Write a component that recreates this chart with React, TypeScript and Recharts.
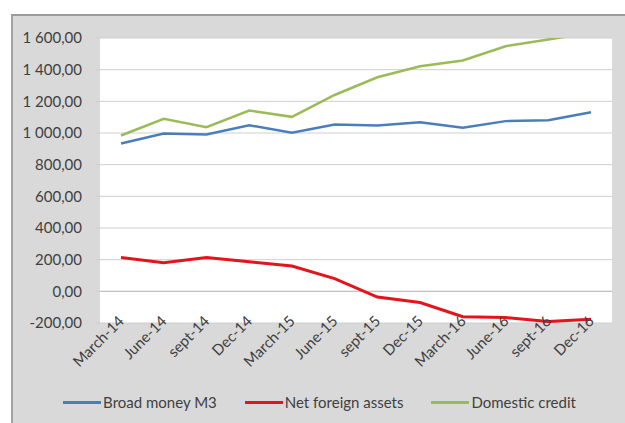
import React from 'react'
import { LineChart, Line, XAxis, YAxis, CartesianGrid, Legend, ReferenceLine } from 'recharts'

const categories = ['March-14', 'June-14', 'sept-14', 'Dec-14', 'March-15', 'June-15', 'sept-15', 'Dec-15', 'March-16', 'June-16', 'sept-16', 'Dec-16']
const broadMoney = [934, 997, 991, 1049, 1001, 1054, 1047, 1068, 1033, 1075, 1081, 1131]
const netForeign = [213, 181, 213, 187, 160, 80, -36, -71, -160, -166, -191, -177]
const domesticCredit = [984, 1090, 1037, 1142, 1102, 1240, 1352, 1422, 1458, 1548, 1590, 1635]
const yTicks = [-200, 0, 200, 400, 600, 800, 1000, 1200, 1400, 1600]

const data = categories.map((name, i) => ({
  name,
  broad: broadMoney[i],
  nfa: netForeign[i],
  credit: domesticCredit[i],
}))

const series = [
  { key: 'broad', label: 'Broad money M3', color: '#4a7ebb', width: 2.5 },
  { key: 'nfa', label: 'Net foreign assets', color: '#e3141b', width: 3 },
  { key: 'credit', label: 'Domestic credit', color: '#9bbb59', width: 2.5 },
]

const FONT = 'Lato, "Open Sans", sans-serif'
const TEXT = '#404040'

function fmt(v: number) {
  const [i, d] = Math.abs(v).toFixed(2).split('.')
  const grouped = i.replace(/\B(?=(\d{3})+(?!\d))/g, ' ')
  return (v < 0 ? '-' : '') + grouped + ',' + d
}

function XTick(props: any) {
  const { x, y, payload } = props
  return (
    <g transform={`translate(${x + 4},${y - 1})`}>
      <text x={0} y={0} textAnchor="end" transform="rotate(-45)" fill={TEXT} fontSize={15} fontFamily={FONT}>
        {payload.value}
      </text>
    </g>
  )
}

function LegendContent() {
  return (
    <div style={{ display: 'flex', justifyContent: 'center', gap: 28, fontFamily: FONT, fontSize: 15, color: TEXT, paddingLeft: 14 }}>
      {series.map((s) => (
        <div key={s.key} style={{ display: 'flex', alignItems: 'center' }}>
          <div style={{ width: 38, height: 3, background: s.color, marginRight: 2 }} />
          <span>{s.label}</span>
        </div>
      ))}
    </div>
  )
}

export default function App() {
  return (
    <div style={{ position: 'absolute', left: 0, top: 0, width: 625, height: 423, background: '#fff', overflow: 'hidden' }}>
      <div style={{ position: 'absolute', left: 11, top: 14, width: 620, height: 415, background: '#d9d9d9', borderTop: '2px solid #9a9a9a', borderLeft: '2px solid #a3a3a3' }} />
      <div style={{ position: 'absolute', left: 0, top: 0 }}>
        <LineChart width={625} height={423} data={data} margin={{ top: 38, right: 13, left: 0, bottom: 0 }}>
          <CartesianGrid vertical={false} stroke="#cfcfcf" fill="#ffffff" />
          <XAxis
            dataKey="name"
            interval={0}
            padding={{ left: 21, right: 21 }}
            axisLine={false}
            tickLine={false}
            tickSize={0}
            tickMargin={0}
            height={100}
            tick={<XTick />}
          />
          <YAxis
            domain={[-200, 1600]}
            ticks={yTicks}
            allowDataOverflow
            width={100}
            axisLine={false}
            tickLine={{ stroke: '#cfcfcf' }}
            tickSize={5}
            tickMargin={13}
            tickFormatter={fmt}
            tick={{ fill: TEXT, fontSize: 15, fontFamily: FONT }}
          />
          <ReferenceLine y={0} stroke="#bdbdbd" />
          <Legend verticalAlign="middle" wrapperStyle={{ top: 393, left: 0, width: 625 }} content={<LegendContent />} />
          {series.map((s) => (
            <Line
              key={s.key}
              type="linear"
              dataKey={s.key}
              name={s.label}
              stroke={s.color}
              strokeWidth={s.width}
              dot={false}
              activeDot={false}
              isAnimationActive={false}
            />
          ))}
        </LineChart>
      </div>
    </div>
  )
}
